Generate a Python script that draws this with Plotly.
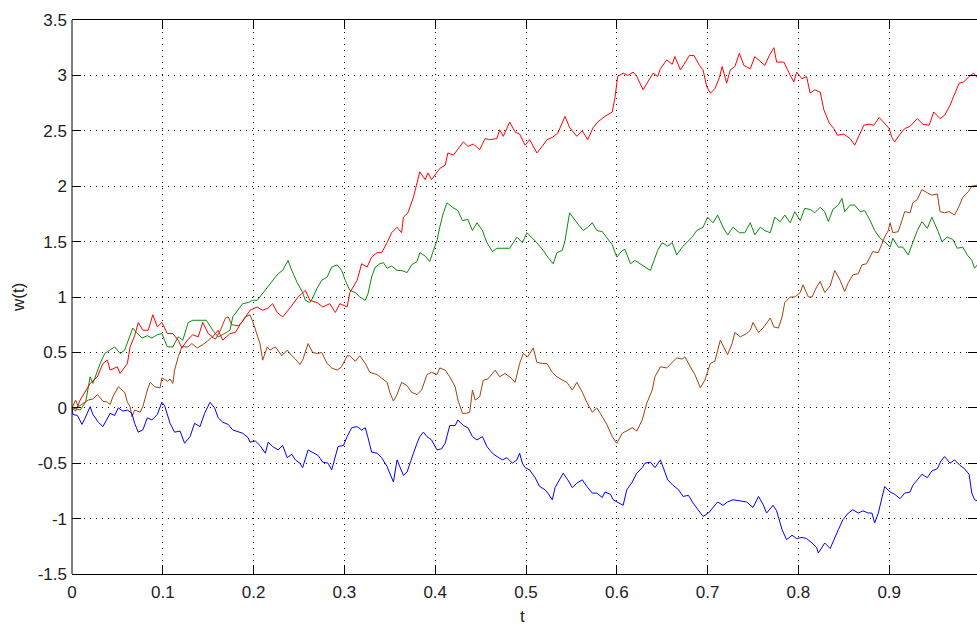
import plotly.graph_objects as go

# ---- data ----
red_t = [0, .004, .009, .015, .020, .028, .034, .039, .042, .050, .053, .061, .064, .069, .073, .078, .084, .089, .094, .099,
         .105, .111, .117, .121, .127, .133, .139, .144, .150, .155, .161, .166, .174, .180, .185, .191, .196, .204, .210, .216,
         .221, .226, .232, .240, .249, .257, .262, .270, .276, .284, .290, .295, .303, .306, .314, .319, .325, .330, .336, .341,
         .347, .352, .358, .363, .365, .370, .376, .380, .383, .389, .392, .396, .401, .405, .411, .414, .420, .425, .431, .436,
         .442, .449, .455, .460, .468, .471, .475, .482, .488, .493, .499, .504, .512, .518, .523, .529, .535, .543, .548, .556,
         .562, .568, .574, .579, .587, .595, .598, .601, .607, .612, .618, .622, .629, .634, .640, .645, .648, .655, .661, .664,
         .670, .674, .680, .685, .691, .695, .699, .703, .708, .713, .716, .721, .725, .730, .735, .740, .747, .752, .758, .763,
         .768, .773, .776, .784, .791, .795, .798, .804, .809, .813, .818, .824, .828, .834, .839, .843, .850, .857, .862, .868,
         .872, .878, .883, .889, .894, .900, .903, .906, .912, .917, .923, .931, .937, .944, .949, .956, .961, .967, .971, .977,
         .982, .988, .993, .997]
red_w = [0.00, -0.03, 0.07, 0.15, 0.22, 0.28, 0.40, 0.43, 0.34, 0.37, 0.31, 0.40, 0.55, 0.65, 0.77, 0.70, 0.70, 0.84, 0.73, 0.77,
         0.67, 0.67, 0.61, 0.54, 0.61, 0.66, 0.64, 0.77, 0.67, 0.64, 0.70, 0.61, 0.67, 0.68, 0.75, 0.82, 0.88, 0.91, 0.88, 0.90,
         0.94, 0.86, 0.82, 0.90, 1.00, 1.06, 0.97, 0.95, 0.91, 0.94, 0.86, 0.94, 0.91, 1.04, 1.15, 1.30, 1.27, 1.36, 1.40, 1.40,
         1.49, 1.58, 1.63, 1.58, 1.72, 1.76, 1.90, 2.03, 2.13, 2.06, 2.12, 2.06, 2.12, 2.16, 2.19, 2.30, 2.28, 2.33, 2.40, 2.36,
         2.38, 2.33, 2.43, 2.42, 2.43, 2.51, 2.45, 2.58, 2.49, 2.47, 2.37, 2.42, 2.30, 2.36, 2.42, 2.44, 2.48, 2.63, 2.53, 2.45,
         2.50, 2.42, 2.53, 2.58, 2.63, 2.67, 2.80, 2.99, 3.02, 3.00, 3.03, 2.99, 2.87, 2.94, 3.02, 2.99, 3.06, 3.14, 3.10, 3.17,
         3.05, 3.10, 3.18, 3.18, 3.09, 3.05, 2.90, 2.84, 2.88, 2.98, 3.08, 2.93, 3.05, 3.08, 3.20, 3.09, 3.06, 3.17, 3.13, 3.09,
         3.18, 3.25, 3.12, 3.12, 3.00, 2.94, 3.03, 2.97, 2.99, 2.84, 2.87, 2.85, 2.69, 2.57, 2.52, 2.46, 2.47, 2.43, 2.37, 2.48,
         2.55, 2.56, 2.55, 2.62, 2.57, 2.52, 2.44, 2.40, 2.47, 2.52, 2.54, 2.61, 2.56, 2.55, 2.67, 2.61, 2.64, 2.73, 2.81, 2.93,
         2.94, 2.99, 3.02, 2.98]

green_t = [0, .009, .015, .020, .023, .028, .031, .036, .042, .047, .053, .058, .062, .067, .071, .077, .083, .088, .094, .099,
           .105, .111, .117, .122, .128, .133, .141, .148, .155, .161, .166, .174, .177, .183, .188, .194, .199, .204, .210, .216,
           .221, .227, .232, .238, .242, .248, .254, .257, .262, .265, .270, .275, .281, .286, .292, .297, .301, .306, .312, .317,
           .323, .326, .330, .334, .339, .343, .347, .352, .358, .363, .369, .374, .380, .383, .389, .394, .398, .402, .405, .409,
           .413, .419, .425, .430, .436, .441, .446, .452, .457, .463, .468, .475, .482, .490, .496, .501, .507, .512, .519, .524,
           .530, .534, .540, .543, .548, .554, .557, .563, .568, .573, .578, .584, .589, .595, .600, .606, .609, .615, .620, .626,
           .631, .637, .641, .645, .650, .656, .661, .666, .672, .677, .683, .688, .695, .700, .706, .711, .717, .722, .728, .735,
           .741, .747, .752, .758, .763, .769, .774, .780, .785, .791, .796, .802, .807, .813, .818, .824, .829, .833, .838, .844,
           .848, .851, .857, .862, .868, .873, .879, .884, .890, .895, .901, .904, .910, .915, .921, .925, .931, .936, .942, .947,
           .951, .954, .958, .964, .970, .975, .981, .986, .991, .994, .997]
green_w = [0.00, -0.02, 0.05, 0.28, 0.22, 0.33, 0.40, 0.49, 0.52, 0.55, 0.49, 0.52, 0.61, 0.72, 0.68, 0.63, 0.65, 0.63, 0.66, 0.67,
           0.55, 0.55, 0.64, 0.61, 0.77, 0.79, 0.79, 0.79, 0.70, 0.64, 0.66, 0.70, 0.82, 0.88, 0.94, 0.95, 0.97, 0.97, 1.03, 1.09,
           1.15, 1.21, 1.24, 1.33, 1.24, 1.13, 1.04, 0.97, 0.95, 0.99, 1.08, 1.15, 1.18, 1.27, 1.29, 1.24, 1.15, 1.06, 1.04, 1.00,
           0.97, 1.03, 1.18, 1.27, 1.30, 1.31, 1.26, 1.28, 1.24, 1.24, 1.22, 1.29, 1.32, 1.40, 1.37, 1.32, 1.42, 1.51, 1.63, 1.76,
           1.85, 1.81, 1.78, 1.69, 1.70, 1.60, 1.67, 1.60, 1.49, 1.41, 1.44, 1.44, 1.44, 1.54, 1.49, 1.58, 1.53, 1.49, 1.42, 1.36,
           1.30, 1.40, 1.42, 1.51, 1.76, 1.69, 1.66, 1.60, 1.63, 1.67, 1.60, 1.59, 1.54, 1.47, 1.36, 1.42, 1.43, 1.30, 1.33, 1.30,
           1.27, 1.24, 1.33, 1.42, 1.49, 1.46, 1.49, 1.38, 1.45, 1.49, 1.54, 1.60, 1.63, 1.72, 1.67, 1.74, 1.63, 1.56, 1.63, 1.58,
           1.58, 1.67, 1.56, 1.63, 1.60, 1.58, 1.72, 1.68, 1.74, 1.67, 1.77, 1.69, 1.80, 1.79, 1.76, 1.81, 1.77, 1.68, 1.79, 1.83,
           1.89, 1.77, 1.83, 1.83, 1.77, 1.78, 1.69, 1.60, 1.53, 1.50, 1.45, 1.53, 1.45, 1.45, 1.38, 1.47, 1.60, 1.68, 1.62, 1.72,
           1.65, 1.59, 1.50, 1.54, 1.52, 1.44, 1.45, 1.38, 1.33, 1.26, 1.29]

brown_t = [0, .004, .007, .015, .018, .023, .028, .034, .039, .042, .045, .051, .058, .061, .064, .066, .069, .075, .078, .083,
           .086, .091, .097, .099, .105, .108, .111, .113, .117, .121, .128, .132, .138, .144, .149, .154, .158, .163, .169, .172,
           .176, .183, .187, .191, .196, .199, .202, .207, .210, .215, .218, .224, .231, .237, .242, .246, .251, .254, .260, .265,
           .270, .275, .281, .286, .292, .297, .303, .306, .312, .317, .323, .328, .336, .341, .347, .350, .354, .358, .363, .369,
           .374, .380, .385, .391, .396, .402, .405, .411, .416, .422, .425, .430, .434, .438, .441, .444, .449, .453, .458, .466,
           .471, .477, .482, .488, .493, .497, .502, .508, .512, .518, .523, .529, .534, .540, .545, .551, .556, .562, .567, .573,
           .578, .584, .589, .595, .600, .606, .611, .617, .622, .628, .633, .639, .642, .648, .655, .661, .666, .672, .675, .681,
           .686, .692, .697, .703, .708, .714, .719, .722, .727, .730, .736, .743, .747, .750, .756, .761, .769, .773, .778, .782,
           .785, .791, .796, .802, .805, .811, .815, .820, .824, .829, .835, .840, .846, .851, .855, .860, .866, .870, .875, .879,
           .882, .888, .892, .895, .899, .901, .904, .910, .914, .917, .923, .926, .931, .936, .942, .947, .953, .956, .961, .966,
           .972, .977, .981, .987, .991, .997]
brown_w = [0.00, 0.07, 0.01, 0.05, 0.07, 0.08, 0.12, 0.06, 0.05, 0.03, 0.10, 0.19, 0.14, 0.05, 0.01, -0.08, -0.02, -0.04, 0.01, 0.16,
           0.23, 0.19, 0.18, 0.27, 0.24, 0.26, 0.22, 0.34, 0.46, 0.55, 0.55, 0.58, 0.54, 0.57, 0.60, 0.64, 0.62, 0.69, 0.81, 0.82,
           0.75, 0.74, 0.77, 0.82, 0.84, 0.78, 0.70, 0.58, 0.43, 0.55, 0.52, 0.55, 0.47, 0.52, 0.47, 0.44, 0.39, 0.43, 0.58, 0.50,
           0.49, 0.50, 0.40, 0.36, 0.34, 0.37, 0.47, 0.47, 0.42, 0.47, 0.40, 0.32, 0.30, 0.27, 0.23, 0.14, 0.06, 0.12, 0.23, 0.20,
           0.14, 0.12, 0.16, 0.30, 0.32, 0.30, 0.36, 0.34, 0.28, 0.19, 0.07, -0.05, -0.05, -0.04, 0.16, 0.07, 0.10, 0.25, 0.26, 0.34,
           0.28, 0.31, 0.28, 0.23, 0.40, 0.49, 0.46, 0.54, 0.41, 0.40, 0.40, 0.32, 0.28, 0.25, 0.23, 0.16, 0.23, 0.14, 0.05, -0.04,
           0.00, -0.08, -0.15, -0.26, -0.32, -0.23, -0.21, -0.18, -0.21, -0.11, 0.04, 0.16, 0.28, 0.37, 0.36, 0.41, 0.45, 0.44, 0.46, 0.37,
           0.30, 0.18, 0.25, 0.40, 0.42, 0.61, 0.52, 0.48, 0.58, 0.68, 0.64, 0.67, 0.70, 0.77, 0.68, 0.72, 0.81, 0.73, 0.72, 0.82,
           0.95, 1.00, 1.00, 1.04, 1.11, 1.00, 1.00, 1.09, 1.14, 1.04, 1.10, 1.24, 1.15, 1.05, 1.13, 1.20, 1.21, 1.29, 1.30, 1.36,
           1.41, 1.40, 1.49, 1.54, 1.60, 1.67, 1.58, 1.59, 1.69, 1.77, 1.76, 1.85, 1.88, 1.97, 1.94, 1.92, 1.93, 1.77, 1.76, 1.77,
           1.74, 1.82, 1.90, 1.95, 2.00, 2.01]

blue_t = [0, .001, .006, .011, .014, .020, .023, .029, .034, .039, .042, .047, .051, .056, .061, .066, .069, .073, .078, .083,
          .088, .094, .099, .102, .108, .113, .119, .124, .130, .135, .141, .146, .152, .157, .161, .166, .172, .177, .183, .188,
          .194, .196, .202, .207, .213, .216, .221, .227, .232, .237, .242, .246, .251, .254, .260, .265, .271, .276, .282, .286,
          .290, .293, .299, .303, .308, .314, .319, .323, .326, .330, .336, .341, .347, .350, .354, .358, .361, .365, .369, .372,
          .376, .380, .383, .387, .391, .396, .402, .407, .411, .416, .422, .425, .431, .436, .441, .446, .452, .457, .463, .468,
          .474, .479, .485, .490, .493, .496, .499, .504, .510, .515, .521, .524, .529, .532, .537, .541, .546, .551, .556, .562,
          .567, .573, .578, .584, .587, .593, .596, .601, .607, .611, .617, .622, .628, .631, .637, .642, .648, .653, .656, .662,
          .668, .673, .679, .684, .690, .695, .701, .706, .711, .717, .722, .728, .736, .743, .750, .756, .761, .765, .772, .776,
          .782, .787, .793, .798, .804, .809, .815, .820, .822, .826, .829, .835, .840, .844, .849, .855, .860, .866, .871, .877,
          .881, .884, .888, .892, .895, .901, .906, .912, .917, .923, .926, .931, .936, .942, .947, .953, .957, .961, .967, .972,
          .978, .983, .988, .991, .994, .997]
blue_w = [0.00, -0.06, -0.07, -0.15, -0.10, 0.01, -0.06, -0.13, -0.17, -0.09, -0.05, -0.07, 0.00, -0.03, -0.02, -0.05, -0.14, -0.22, -0.20, -0.09,
          -0.11, -0.06, 0.05, 0.02, -0.14, -0.22, -0.21, -0.32, -0.26, -0.14, -0.17, -0.05, 0.05, 0.00, -0.09, -0.13, -0.15, -0.20, -0.22, -0.23,
          -0.27, -0.31, -0.30, -0.34, -0.41, -0.31, -0.35, -0.38, -0.34, -0.45, -0.42, -0.47, -0.50, -0.54, -0.38, -0.40, -0.43, -0.49, -0.50, -0.56,
          -0.45, -0.35, -0.34, -0.26, -0.18, -0.17, -0.20, -0.18, -0.27, -0.40, -0.41, -0.45, -0.53, -0.59, -0.67, -0.47, -0.53, -0.61, -0.58, -0.50,
          -0.41, -0.32, -0.26, -0.22, -0.26, -0.29, -0.38, -0.37, -0.32, -0.16, -0.16, -0.11, -0.16, -0.18, -0.26, -0.29, -0.26, -0.35, -0.41, -0.44,
          -0.47, -0.45, -0.50, -0.47, -0.41, -0.50, -0.54, -0.56, -0.63, -0.71, -0.74, -0.77, -0.83, -0.72, -0.65, -0.59, -0.65, -0.72, -0.68, -0.65,
          -0.71, -0.77, -0.77, -0.81, -0.76, -0.78, -0.83, -0.85, -0.88, -0.74, -0.67, -0.59, -0.54, -0.50, -0.49, -0.54, -0.47, -0.58, -0.65, -0.70,
          -0.74, -0.80, -0.79, -0.86, -0.92, -0.98, -0.95, -0.90, -0.85, -0.88, -0.85, -0.83, -0.84, -0.85, -0.90, -0.80, -0.87, -0.95, -0.88, -0.93,
          -1.10, -1.19, -1.15, -1.18, -1.17, -1.18, -1.22, -1.26, -1.31, -1.26, -1.22, -1.27, -1.17, -1.10, -1.01, -0.95, -0.92, -0.95, -0.93, -0.95,
          -0.95, -1.04, -0.95, -0.80, -0.71, -0.76, -0.78, -0.82, -0.77, -0.76, -0.70, -0.65, -0.60, -0.63, -0.57, -0.55, -0.48, -0.44, -0.50, -0.47,
          -0.52, -0.55, -0.60, -0.77, -0.83, -0.84]

x_ticks = [0, 0.1, 0.2, 0.3, 0.4, 0.5, 0.6, 0.7, 0.8, 0.9]
x_labels = ["0", "0.1", "0.2", "0.3", "0.4", "0.5", "0.6", "0.7", "0.8", "0.9"]
y_ticks = [-1.5, -1, -0.5, 0, 0.5, 1, 1.5, 2, 2.5, 3, 3.5]
y_labels = ["-1.5", "-1", "-0.5", "0", "0.5", "1", "1.5", "2", "2.5", "3", "3.5"]

series = [
    (green_t, green_w, "#0b8a0b"),
    (brown_t, brown_w, "#a3410e"),
    (blue_t, blue_w, "#0000ff"),
    (red_t, red_w, "#ff0000"),
]

fig = go.Figure()
for t, w, c in series:
    fig.add_trace(go.Scatter(x=t, y=w, mode="lines", line=dict(color=c, width=1),
                             showlegend=False, hoverinfo="skip"))

font = dict(family="Liberation Sans, Arial, sans-serif", size=17, color="#222222")
fig.update_layout(
    width=977, height=626,
    margin=dict(l=72, r=0, t=20, b=52),
    paper_bgcolor="white", plot_bgcolor="white",
    font=font,
    xaxis=dict(range=[0, 0.9967], tickvals=x_ticks, ticktext=x_labels,
               ticks="inside", ticklen=9, tickwidth=1, tickcolor="black",
               showline=True, linecolor="black", linewidth=1, mirror="ticks",
               showgrid=True, gridcolor="black", gridwidth=1, griddash="1px,5px",
               zeroline=False, tickfont=font, ticklabelstandoff=3),
    yaxis=dict(range=[-1.5, 3.5], tickvals=y_ticks, ticktext=y_labels,
               ticks="inside", ticklen=9, tickwidth=1, tickcolor="black",
               showline=False, mirror="ticks",
               showgrid=True, gridcolor="black", gridwidth=1, griddash="1px,5px",
               zeroline=False, tickfont=font, ticklabelstandoff=4),
    shapes=[dict(type="line", xref="paper", yref="paper", x0=0, x1=0, y0=0, y1=1,
                 line=dict(color="black", width=1))],
    annotations=[
        dict(text="w(t)", xref="paper", yref="paper", x=-0.0597, y=0.5,
             textangle=-90, showarrow=False, xanchor="center", yanchor="middle", font=font),
        dict(text="t", xref="paper", yref="paper", x=0.498, y=-0.077,
             showarrow=False, xanchor="center", yanchor="middle", font=font),
    ],
)

fig.write_html("out.html")
